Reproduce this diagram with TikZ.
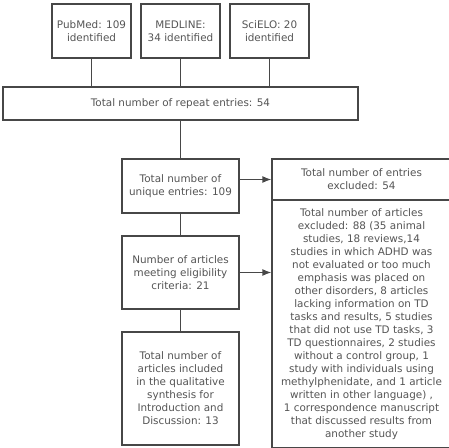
\documentclass[tikz,border=0pt]{standalone}
\usepackage{fontspec}
\setmainfont{DejaVu Sans}
\usetikzlibrary{arrows.meta}
\definecolor{boxline}{HTML}{474747}
\definecolor{boxtext}{HTML}{555555}

\begin{document}
\begin{tikzpicture}[x=1pt,y=1pt,
    box/.style={draw=boxline, line width=1.3pt, fill=white, text=boxtext, align=center,
      inner sep=0pt, font=\fontsize{10.4}{13}\selectfont},
    link/.style={draw=boxline, line width=1.3pt}]
      \useasboundingbox (0,0) rectangle (449,447);

      % Sources
      \node[box, minimum width=79, minimum height=54] (pubmed) at (91.5,416) {PubMed: 109\\identified};
      \node[box, minimum width=79, minimum height=54] (medline) at (180.5,416) {MEDLINE:\\34 identified};
      \node[box, minimum width=79, minimum height=54] (scielo) at (269.5,416) {SciELO: 20\\identified};

      % Repeats
      \node[box, minimum width=355, minimum height=33] (repeat) at (180.5,343.5) {Total number of repeat entries: 54};

      % Left column
      \node[box, minimum width=117, minimum height=54] (unique) at (180.5,261) {Total number of\\unique entries: 109};
      \node[box, minimum width=117, minimum height=73] (eligible) at (180.5,174.5) {Number of articles\\meeting eligibility\\criteria: 21};
      \node[box, minimum width=117, minimum height=113] (included) at (180.5,58.5) {Total number of\\articles included\\in the qualitative\\synthesis for\\Introduction and\\Discussion: 13};

      % Right column
      \node[box, minimum width=179, minimum height=41] (excluded) at (361.5,267.5) {Total number of entries\\excluded: 54};
      \node[box, minimum width=179, minimum height=247, anchor=north] (articles) at (361.5,247.5) {Total number of articles\\excluded: 88 (35 animal\\studies, 18 reviews,14\\studies in which ADHD was\\not evaluated or too much\\emphasis was placed on\\other disorders, 8 articles\\lacking information on TD\\tasks and results, 5 studies\\that did not use TD tasks, 3\\TD questionnaires, 2 studies\\without a control group, 1\\study with individuals using\\methylphenidate, and 1 article\\written in other language) ,\\1 correspondence manuscript\\that discussed results from\\another study};

      % Connectors
      \draw[link] (pubmed.south) -- (pubmed.south |- repeat.north);
      \draw[link] (medline.south) -- (medline.south |- repeat.north);
      \draw[link] (scielo.south) -- (scielo.south |- repeat.north);
      \draw[link] (repeat.south -| unique.north) -- (unique.north);
      \draw[link] (unique.south) -- (eligible.north);
      \draw[link] (eligible.south) -- (included.north);
      \draw[link, -{Latex[length=9pt,width=7pt]}] (unique.east |- excluded.west) -- (excluded.west);
      \draw[link, -{Latex[length=9pt,width=7pt]}] (eligible.east) -- (eligible.east -| articles.west);
    \end{tikzpicture}
\end{document}
